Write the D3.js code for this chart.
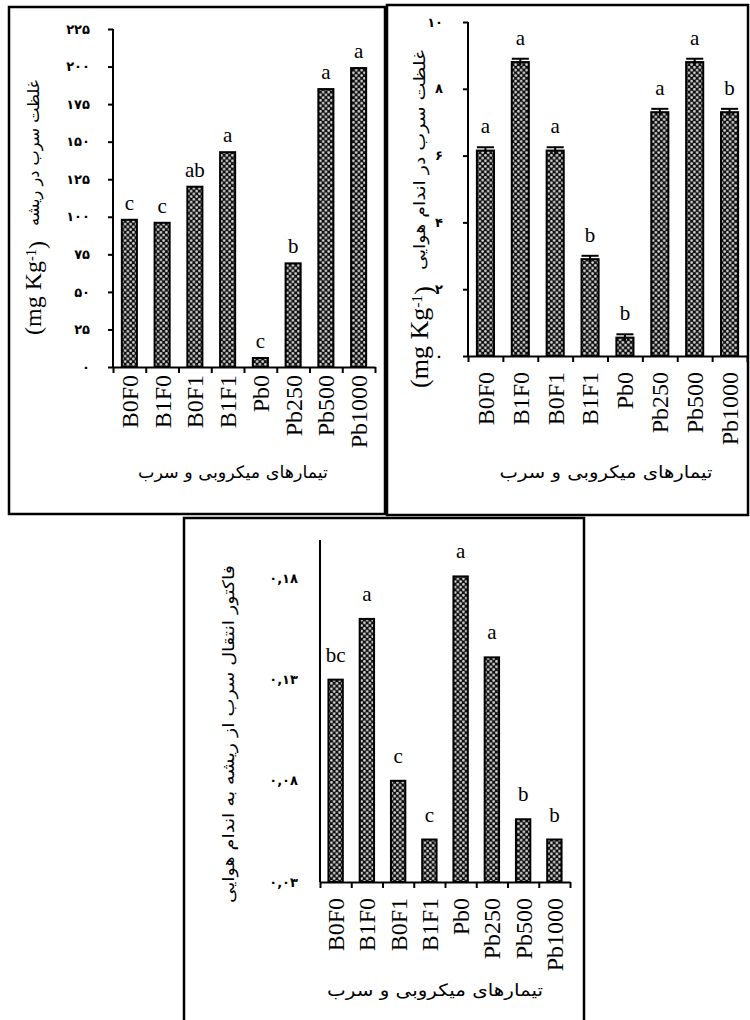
<!DOCTYPE html>
<html>
<head>
<meta charset="utf-8">
<script src="https://cdn.jsdelivr.net/npm/d3@7"></script>
<style>
  body { margin: 0; background: #fff; }
  svg { display: block; }
</style>
</head>
<body>
<script>
const w = 750;
const h = 1020;

// treatments (same order in all three charts)
const categories = ["B0F0", "B1F0", "B0F1", "B1F1", "Pb0", "Pb250", "Pb500", "Pb1000"];

// root Pb concentration
const rootValues = [98, 96, 120, 143, 6, 69, 185, 199];
const rootLetters = ["c", "c", "ab", "a", "c", "b", "a", "a"];
const rootTicks = [0, 25, 50, 75, 100, 125, 150, 175, 200, 225];
const rootTickLabels = ["۰", "۲۵", "۵۰", "۷۵", "۱۰۰", "۱۲۵", "۱۵۰", "۱۷۵", "۲۰۰", "۲۲۵"];

// shoot Pb concentration
const shootValues = [6.15, 8.8, 6.15, 2.9, 0.55, 7.3, 8.8, 7.3];
const shootErrors = [0.1, 0.1, 0.1, 0.1, 0.1, 0.1, 0.1, 0.1];
const shootLetters = ["a", "a", "a", "b", "b", "a", "a", "b"];
const shootTicks = [0, 2, 4, 6, 8, 10];
const shootTickLabels = ["۰", "۲", "۴", "۶", "۸", "۱۰"];

// translocation factor
const tfValues = [0.130, 0.160, 0.080, 0.051, 0.181, 0.141, 0.061, 0.051];
const tfLetters = ["bc", "a", "c", "c", "a", "a", "b", "b"];
const tfTicks = [0.03, 0.08, 0.13, 0.18];
const tfTickLabels = ["۰,۰۳", "۰,۰۸", "۰,۱۳", "۰,۱۸"];

const xTitle = "تیمارهای میکروبی و سرب";

const svg = d3.select("body").append("svg")
  .attr("width", w)
  .attr("height", h);

// dotted fill like the original bars
const pat = svg.append("defs").append("pattern")
  .attr("id", "dots")
  .attr("patternUnits", "userSpaceOnUse")
  .attr("width", 5.5)
  .attr("height", 5.5);
pat.append("rect").attr("width", 5.5).attr("height", 5.5).attr("fill", "#111");
pat.append("circle").attr("cx", 1.4).attr("cy", 1.4).attr("r", 1.35).attr("fill", "#d4d4d4");
pat.append("circle").attr("cx", 4.15).attr("cy", 4.15).attr("r", 1.35).attr("fill", "#d4d4d4");

function drawChart(cfg) {
  const g = svg.append("g");

  g.append("rect")
    .attr("x", cfg.frame[0]).attr("y", cfg.frame[1])
    .attr("width", cfg.frame[2]).attr("height", cfg.frame[3])
    .attr("fill", "none").attr("stroke", "#000").attr("stroke-width", 2.5);

  const x = d3.scaleBand()
    .domain(categories)
    .range([cfg.x0, cfg.x1])
    .paddingInner(cfg.pad)
    .paddingOuter(cfg.pad / 2);

  const y = d3.scaleLinear()
    .domain(cfg.domain)
    .range([cfg.base, cfg.top]);

  // bars
  g.selectAll(".bar")
    .data(cfg.values)
    .enter()
    .append("rect")
    .attr("class", "bar")
    .attr("x", (d, i) => x(categories[i]))
    .attr("y", (d) => y(d))
    .attr("width", x.bandwidth())
    .attr("height", (d) => cfg.base - y(d))
    .attr("fill", "url(#dots)")
    .attr("stroke", "#000")
    .attr("stroke-width", 2);

  // error bars
  if (cfg.errors) {
    const eb = g.selectAll(".err")
      .data(cfg.values)
      .enter()
      .append("g")
      .attr("class", "err")
      .attr("stroke", "#000")
      .attr("stroke-width", 2);
    eb.append("line")
      .attr("x1", (d, i) => x(categories[i]) + x.bandwidth() / 2)
      .attr("x2", (d, i) => x(categories[i]) + x.bandwidth() / 2)
      .attr("y1", (d, i) => y(d - cfg.errors[i]))
      .attr("y2", (d, i) => y(d + cfg.errors[i]));
    eb.append("line")
      .attr("x1", (d, i) => x(categories[i]))
      .attr("x2", (d, i) => x(categories[i]) + x.bandwidth())
      .attr("y1", (d, i) => y(d + cfg.errors[i]))
      .attr("y2", (d, i) => y(d + cfg.errors[i]));
  }

  // significance letters
  g.selectAll(".letter")
    .data(cfg.letters)
    .enter()
    .append("text")
    .attr("class", "letter")
    .attr("x", (d, i) => x(categories[i]) + x.bandwidth() / 2)
    .attr("y", (d, i) => y(cfg.values[i] + (cfg.errors ? cfg.errors[i] : 0)) - cfg.letterGap)
    .attr("text-anchor", "middle")
    .attr("font-family", "Liberation Serif, serif")
    .attr("font-size", 21)
    .text((d) => d);

  // y axis
  const yAxis = d3.axisLeft(y)
    .tickValues(cfg.ticks)
    .tickFormat((d, i) => cfg.tickLabels[i])
    .tickSizeInner(cfg.yTick)
    .tickSizeOuter(0)
    .tickPadding(cfg.yPad);
  const ya = g.append("g")
    .attr("transform", "translate(" + cfg.x0 + ",0)")
    .call(yAxis);
  ya.select(".domain").attr("stroke-width", 2).attr("d", "M0," + cfg.top + "V" + cfg.base);
  ya.selectAll("line").attr("stroke-width", 2);
  ya.selectAll("text")
    .attr("font-family", "DejaVu Sans, sans-serif")
    .attr("font-weight", "bold")
    .attr("font-size", 13)
    .attr("letter-spacing", 2)
    .attr("fill", "#000");

  // x axis line with ticks between categories
  const xb = d3.scaleLinear().domain([0, categories.length]).range([cfg.x0, cfg.x1]);
  const xa = g.append("g")
    .attr("transform", "translate(0," + cfg.base + ")")
    .call(d3.axisBottom(xb).tickValues(d3.range(categories.length + 1)).tickFormat("").tickSizeInner(6).tickSizeOuter(0));
  xa.select(".domain").attr("stroke-width", 2);
  xa.selectAll("line").attr("stroke-width", 2);

  // category labels
  const xl = g.append("g")
    .attr("transform", "translate(0," + cfg.base + ")")
    .call(d3.axisBottom(x).tickSize(0));
  xl.select(".domain").remove();
  xl.selectAll("text")
    .attr("transform", "rotate(-90)")
    .attr("text-anchor", "end")
    .attr("x", -cfg.labelGap)
    .attr("y", 0)
    .attr("dy", "0.35em")
    .attr("font-family", "Liberation Serif, serif")
    .attr("font-size", 24)
    .attr("fill", "#000");

  // x title
  g.append("text")
    .attr("x", cfg.xTitle[0])
    .attr("y", cfg.xTitle[1])
    .attr("text-anchor", "middle")
    .attr("font-family", "DejaVu Sans, sans-serif")
    .attr("font-size", 17)
    .attr("textLength", cfg.xTitle[2])
    .attr("lengthAdjust", "spacingAndGlyphs")
    .text(xTitle);

  // y title: Persian part on top, unit below it
  const yt = g.append("g")
    .attr("transform", "translate(" + cfg.yTitle.x + ",0) rotate(-90)");
  yt.append("text")
    .attr("x", -cfg.yTitle.fa[1])
    .attr("y", 0)
    .attr("dy", "0.35em")
    .attr("text-anchor", "start")
    .attr("font-family", "DejaVu Sans, sans-serif")
    .attr("font-size", 16)
    .attr("textLength", cfg.yTitle.fa[1] - cfg.yTitle.fa[0])
    .attr("lengthAdjust", "spacingAndGlyphs")
    .text(cfg.yTitle.text);
  if (cfg.yTitle.unit) {
    const u = yt.append("text")
      .attr("x", -cfg.yTitle.unit[1])
      .attr("y", 0)
      .attr("dy", "0.35em")
      .attr("text-anchor", "start")
      .attr("font-family", "Liberation Serif, serif")
      .attr("font-size", cfg.yTitle.unitSize);
    u.append("tspan").text("(mg Kg");
    u.append("tspan").attr("dy", "-0.4em").attr("font-size", cfg.yTitle.unitSize * 0.6).text("-1");
    u.append("tspan").attr("dy", "0.4em").text(")");
  }
}

drawChart({
  frame: [9, 7, 376, 507],
  x0: 113, x1: 375, top: 29, base: 367, pad: 0.54,
  domain: [0, 225],
  values: rootValues, letters: rootLetters, letterGap: 10,
  ticks: rootTicks, tickLabels: rootTickLabels, yTick: 5, yPad: 18,
  labelGap: 8,
  xTitle: [233, 478, 190],
  yTitle: { x: 33, text: "غلظت سرب در ریشه", fa: [80, 226], unit: [230, 335], unitSize: 24 }
});

drawChart({
  frame: [387, 5, 361, 510],
  x0: 468, x1: 747, top: 22, base: 356, pad: 0.51,
  domain: [0, 10],
  values: shootValues, errors: shootErrors, letters: shootLetters, letterGap: 14,
  ticks: shootTicks, tickLabels: shootTickLabels, yTick: 5, yPad: 20,
  labelGap: 16,
  xTitle: [606, 478, 213],
  yTitle: { x: 419, text: "غلظت سرب در اندام هوایی", fa: [50, 270], unit: [272, 388], unitSize: 26 }
});

drawChart({
  frame: [184, 518, 400, 530],
  x0: 320, x1: 570, top: 540, base: 882, pad: 0.54,
  domain: [0.03, 0.199],
  values: tfValues, letters: tfLetters, letterGap: 18,
  ticks: tfTicks, tickLabels: tfTickLabels, yTick: 0, yPad: 22,
  labelGap: 16,
  xTitle: [435, 996, 216],
  yTitle: { x: 228, text: "فاکتور انتقال سرب از ریشه به اندام هوایی", fa: [565, 903] }
});
</script>
</body>
</html>
